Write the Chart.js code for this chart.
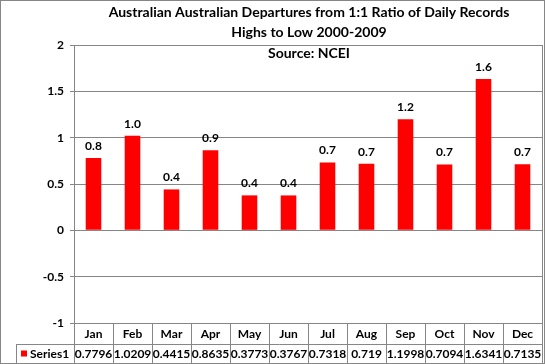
<!DOCTYPE html>
<html>
<head>
<meta charset="utf-8">
<script src="https://cdn.jsdelivr.net/npm/chart.js@4"></script>
<style>
  html, body { margin: 0; padding: 0; background: #fff; }
  #wrap { width: 545px; height: 364px; }
</style>
</head>
<body>
<div id="wrap"><canvas id="myChart" width="545" height="364"></canvas></div>
<script>
// data
const months = ["Jan", "Feb", "Mar", "Apr", "May", "Jun", "Jul", "Aug", "Sep", "Oct", "Nov", "Dec"];
const series1 = [0.7796, 1.0209, 0.4415, 0.8635, 0.3773, 0.3767, 0.7318, 0.719, 1.1998, 0.7094, 1.6341, 0.7135];
const seriesName = "Series1";
const titleLines = ["Australian Australian Departures from 1:1 Ratio of Daily Records", "Highs to Low 2000-2009", "Source: NCEI"];

const FONT = "Lato, 'Open Sans', sans-serif";
const GREY = "#868686";

const extras = {
    id: "extras",
    afterDraw(chart) {
        const ctx = chart.ctx;
        const area = chart.chartArea;
        const x = chart.scales.x;
        const colW = x.getPixelForValue(1) - x.getPixelForValue(0);
        const cx = (area.left + area.right) / 2;

        ctx.save();

        // title
        ctx.fillStyle = "#000";
        ctx.textAlign = "center";
        ctx.textBaseline = "middle";
        ctx.font = "bold 14px " + FONT;
        ctx.fillText(titleLines[0], cx + 1, 12);
        ctx.fillText(titleLines[1], cx + 1, 32);
        ctx.fillText(titleLines[2], cx + 1, 53);

        // value labels
        ctx.font = "bold 12px " + FONT;
        ctx.textBaseline = "bottom";
        const meta = chart.getDatasetMeta(0);
        meta.data.forEach((bar, i) => {
            ctx.fillText(series1[i].toFixed(1), bar.x, bar.y - 6);
        });

        // data table
        const top = area.bottom;
        const mid = top + 21;
        const bot = 363;
        ctx.strokeStyle = GREY;
        ctx.lineWidth = 1;
        ctx.beginPath();
        ctx.moveTo(area.right + 0.5, area.top);
        ctx.lineTo(area.right + 0.5, bot);
        ctx.moveTo(area.left + 0.5, top);
        ctx.lineTo(area.left + 0.5, bot);
        ctx.moveTo(16.5, mid + 0.5);
        ctx.lineTo(area.right, mid + 0.5);
        ctx.moveTo(16.5, bot + 0.5);
        ctx.lineTo(area.right, bot + 0.5);
        ctx.moveTo(16.5, mid);
        ctx.lineTo(16.5, bot);
        for (let i = 1; i < months.length; i++) {
            const lx = Math.round(x.getPixelForValue(i) - colW / 2) + 0.5;
            ctx.moveTo(lx, top);
            ctx.lineTo(lx, bot);
        }
        ctx.stroke();

        ctx.fillStyle = "#000";
        ctx.textBaseline = "middle";
        ctx.textAlign = "center";
        ctx.font = "bold 12px " + FONT;
        months.forEach((m, i) => {
            const px = x.getPixelForValue(i);
            ctx.fillText(m, px, (top + mid) / 2 + 1);
            ctx.fillText(String(series1[i]), px, (mid + bot) / 2 + 1);
        });

        // legend key
        ctx.fillStyle = "#ff0000";
        ctx.fillRect(21, (mid + bot) / 2 - 3, 6, 6);
        ctx.fillStyle = "#000";
        ctx.textAlign = "left";
        ctx.fillText(seriesName, 30, (mid + bot) / 2 + 1);

        // outer border
        ctx.strokeStyle = GREY;
        ctx.strokeRect(0.5, 0.5, 544, 363);
        ctx.restore();
    }
};

window.addEventListener("DOMContentLoaded", function() {
    const canvas = document.getElementById("myChart");
    new Chart(canvas.getContext("2d"), {
        type: "bar",
        data: {
            labels: months,
            datasets: [{
                label: seriesName,
                data: series1,
                backgroundColor: "#ff0000",
                barPercentage: 0.4,
                categoryPercentage: 1
            }]
        },
        options: {
            responsive: false,
            animation: false,
            layout: { padding: { top: 45, bottom: 41, left: 0, right: 3 } },
            plugins: {
                legend: { display: false },
                tooltip: { enabled: false },
                title: { display: false }
            },
            scales: {
                x: { display: false },
                y: {
                    min: -1,
                    max: 2,
                    afterFit(scale) { scale.width = 74; },
                    ticks: {
                        stepSize: 0.5,
                        color: "#000",
                        padding: 6,
                        font: { family: FONT, size: 12, weight: "bold" },
                        callback: v => String(v)
                    },
                    grid: { color: GREY, tickLength: 4 },
                    border: { color: GREY }
                }
            }
        },
        plugins: [extras]
    });
});
</script>
</body>
</html>
